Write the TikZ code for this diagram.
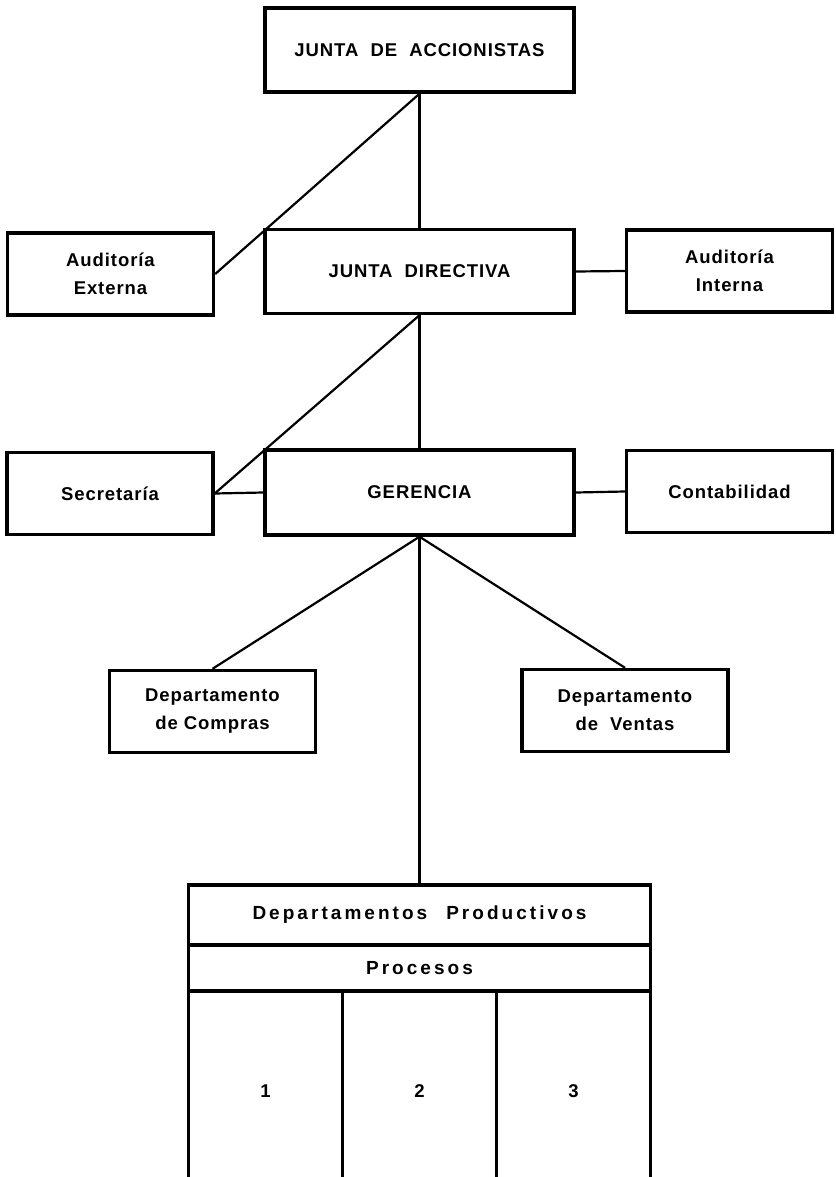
\documentclass[tikz,border=0pt]{standalone}
\usepackage{fontspec}
\setmainfont{Liberation Sans}
\newfontfamily\letters[LetterSpace=5]{Liberation Sans}
\newfontfamily\wijdletters[LetterSpace=16]{Liberation Sans}
\tikzset{
  doos/.style={draw, line width=3.4pt, minimum width=206pt, minimum height=82pt,
    align=center, inner sep=0pt, font=\letters\bfseries\fontsize{18.5}{28}\selectfont},
  breed/.style={doos, minimum width=309pt, minimum height=84pt},
  rij/.style={doos, minimum width=462pt, font=\wijdletters\bfseries\fontsize{19}{28}\selectfont},
  kolom/.style={doos, minimum width=154pt, minimum height=200pt},
  lijn/.style={line width=2.2pt},
}
\begin{document}
\begin{tikzpicture}[x=1pt,y=-1pt]
  \useasboundingbox (0,0) rectangle (835,1177);

  % Bovenste niveau
  \node[breed] (accionistas) at (419.5,50) {JUNTA\ \ DE\ \ ACCIONISTAS};
  \node[breed] (directiva) at (419.5,271.5) {JUNTA\ \ DIRECTIVA};
  \node[doos] (externa) at (110.5,274) {Auditoría\\Externa};
  \node[doos] (interna) at (729.5,271) {Auditoría\\Interna};

  % Gerencia
  \node[breed, minimum height=85pt] (gerencia) at (419.5,492.5) {GERENCIA};
  \node[doos] (secretaria) at (110,493.5) {Secretaría};
  \node[doos] (contabilidad) at (729.5,491.5) {Contabilidad};

  % Departamenten
  \node[doos] (compras) at (212.5,711.5) {Departamento\\de\ Compras};
  \node[doos] (ventas) at (625,710.5) {Departamento\\de\ \ Ventas};

  % Tabel onderaan
  \node[rij, minimum height=60pt] (productivos) at (419.5,915) {Departamentos\quad Productivos};
  \node[rij, minimum height=46pt] (procesos) at (419.5,968) {Procesos};
  \foreach \n in {1,2,3} {
    \node[kolom] (proceso\n) at ({265.5+(\n-1)*154},1091) {\n};
  }

  % Verbindingen
  \draw[lijn] (accionistas.south) -- (directiva.north);
  \draw[lijn] (accionistas.south) -- (externa.east);
  \draw[lijn] (directiva.east) -- (interna.west);
  \draw[lijn] (directiva.south) -- (gerencia.north);
  \draw[lijn] (directiva.south) -- (secretaria.east);
  \draw[lijn] (secretaria.east) -- (gerencia.west);
  \draw[lijn] (gerencia.east) -- (contabilidad.west);
  \draw[lijn] (gerencia.south) -- (compras.north);
  \draw[lijn] (gerencia.south) -- (ventas.north);
  \draw[lijn] (gerencia.south) -- (productivos.north);
\end{tikzpicture}
\end{document}
